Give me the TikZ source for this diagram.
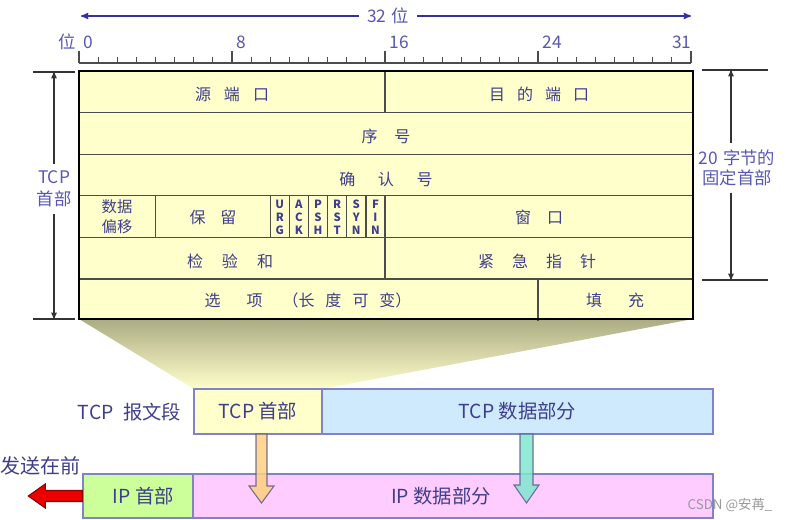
\documentclass[tikz,border=0pt]{standalone}
\usepackage{fontspec}
\setmainfont{Noto Sans CJK SC}
\usetikzlibrary{%
  arrows,%
  shapes,%
  positioning,%
  calc%
}
\definecolor{txtblue}{RGB}{62,62,140}
\definecolor{lblue}{RGB}{88,88,180}
\definecolor{arrblue}{RGB}{50,50,160}
\definecolor{hdrfill}{RGB}{255,255,204}
\definecolor{datafill}{RGB}{206,234,252}
\definecolor{iphfill}{RGB}{204,255,153}
\definecolor{ipdfill}{RGB}{255,204,255}
\definecolor{segline}{RGB}{130,130,200}
\definecolor{khaki}{RGB}{172,172,132}
\definecolor{hdrarr}{RGB}{255,208,128}
\definecolor{datarr}{RGB}{128,230,206}
\newcommand{\chgap}[1][9.75pt]{\hspace{#1}}

\begin{document}
\begin{tikzpicture}[
  x=0.75pt, y=-0.75pt, >=stealth',
  font=\fontsize{12}{14}\selectfont,
  every node/.style={text=txtblue},
  grid/.style={draw=black!70, line width=1pt},
  rul/.style={draw=black!70, line width=0.8pt},
  num/.style={text=lblue, font=\fontsize{13}{15}\selectfont, inner sep=1pt},
  dim/.style={draw=black!80, line width=0.8pt},
  dimtxt/.style={text=lblue, align=center, inner xsep=2pt, inner ysep=5pt},
  flag/.style={font=\fontsize{8.5}{9.75}\selectfont\bfseries, align=center, inner sep=0pt},
  seg/.style={draw=segline, line width=1.1pt, inner sep=0pt,
    minimum height=33.75pt, font=\fontsize{14.5}{17}\selectfont},
  big/.style={font=\fontsize{14.5}{17}\selectfont},
  fat/.style={draw=black!30!segline, line width=0.8pt, opacity=0.85}
]
\useasboundingbox (0,0) rectangle (786,520);

\draw[rul] (79,63) -- (691,63);
\foreach \i in {0,...,32} {
  \draw[rul] ({79+19.125*\i},57) -- ({79+19.125*\i},63);
}
\foreach \i in {0,8,16,24} {
  \draw[rul] ({79+19.125*\i},51) -- ({79+19.125*\i},63);
  \node[num, anchor=west] (b\i) at ({82+19.125*\i},42) {\i};
}
\draw[rul] (691,51) -- (691,63);
\node[num, anchor=east] (b31) at (693,42) {31};
\node[num, anchor=east] (bitlbl) at (77,42) {位};

\coordinate (wl) at (81,16);
\coordinate (wr) at (691,16);
\node[num, fill=white, inner xsep=6pt] (wbits) at (388,16) {32\hspace{0.3em}位};
\draw[->, arrblue, line width=1pt] (wbits) -- (wl);
\draw[->, arrblue, line width=1pt] (wbits) -- (wr);

\shade[top color=khaki, middle color=khaki!45!hdrfill, bottom color=hdrfill]
  (79,319) -- (693,319) -- (322,389) -- (194,389) -- cycle;

\fill[hdrfill] (79,71) rectangle (693,319);
\foreach \k in {1,...,5} {
  \draw[grid] (79,{71+41.6*\k}) -- (693,{71+41.6*\k});
}
\draw[grid] (385,71) -- (385,112.6);
\foreach \i in {4,10,11,12,13,14,15,16} {
  \draw[grid] ({79+19.125*\i},195.8) -- ({79+19.125*\i},237.4);
}
\draw[grid] (385,237.4) -- (385,279);
\draw[grid] (538,279) -- (538,321);
\draw[line width=1.5pt] (79,71) rectangle (693,319);

\node (srcport) at (232,94.5) {源\chgap 端\chgap 口};
\node (dstport) at (539,94.5) {目\chgap[9pt]的\chgap[9pt]端\chgap[9pt]口};
\node (seqno) at (386,136.5) {序\chgap[12.75pt]号};
\node (ackno) at (386,179) {确\chgap[16.9pt]认\chgap[16.9pt]号};
\node[align=center, font=\fontsize{11.5}{15}\selectfont] (offset) at (117,217) {数据\\偏移};
\node (resv) at (213,217) {保\chgap[11.25pt]留};
\foreach \fa/\fb/\fc [count=\i] in {U/R/G, A/C/K, P/S/H, R/S/T, S/Y/N, F/I/N} {
  \node[flag] (flag\i) at ({79+19.125*(9.5+\i)},217) {\fa\\\fb\\\fc};
}
\node (window) at (539,217) {窗\chgap[12pt]口};
\node (chksum) at (230,261) {检\chgap[14.25pt]验\chgap[14.25pt]和};
\node (urgptr) at (537,261) {紧\chgap[13.5pt]急\chgap[13.5pt]指\chgap[13.5pt]针};
\node (options) at (308,300) {选\chgap[19.5pt]项\chgap[15pt]（长\chgap[8.25pt]度\chgap[8.25pt]可\chgap[8.25pt]变）};
\node (padding) at (615,300) {填\chgap[19.5pt]充};

\draw[dim] (33,72) -- (75,72);
\draw[dim] (33,319) -- (75,319);
\coordinate (ltop) at (54,72);
\coordinate (lbot) at (54,319);
\node[dimtxt, font=\fontsize{13}{16.5}\selectfont] (hdrlen) at (54,189) {TCP\\首部};
\draw[dim,->] (hdrlen) -- (ltop);
\draw[dim,->] (hdrlen) -- (lbot);

\draw[dim] (702,70) -- (768,70);
\draw[dim] (702,280) -- (768,280);
\coordinate (rtop) at (731,70);
\coordinate (rbot) at (731,280);
\node[dimtxt, font=\fontsize{13}{14.5}\selectfont] (fixlen) at (737,168) {20\hspace{0.3em}字节的\\固定首部};
\draw[dim,->] (fixlen.north -| rtop) -- (rtop);
\draw[dim,->] (fixlen.south -| rtop) -- (rbot);

\node[seg, fill=hdrfill, minimum width=96pt] (tcphdr) at (258,411.5) {TCP 首部};
\node[seg, fill=datafill, minimum width=293.25pt] (tcpdata) at (517.5,411.5) {TCP 数据部分};
\node[big, anchor=east] (tcpseg) at (186,412) {TCP\hspace{0.5em}报文段};
\node[seg, fill=iphfill, minimum width=82.5pt, minimum height=33pt] (iphdr) at (138,496) {\hspace{8pt}IP 首部};
\node[seg, fill=ipdfill, minimum width=390pt, minimum height=33pt] (ipdata) at (453,496) {};
\node[big] (ipdatal) at (441,496) {IP 数据部分};
\node[font=\fontsize{15}{17}\selectfont] (sendfirst) at (41,466) {发送在前};

\coordinate (harr) at (261.5,434);
\coordinate (darr) at (526.5,434);
\draw[fat, fill=hdrarr] (harr) ++(-5.5,0) -- ++(0,52) -- ++(-7,0) -- ++(12.5,17)
  -- ++(12.5,-17) -- ++(-7,0) -- ++(0,-52) -- cycle;
\draw[fat, fill=datarr] (darr) ++(-6.5,0) -- ++(0,51) -- ++(-6,0) -- ++(12.5,18)
  -- ++(12.5,-18) -- ++(-6,0) -- ++(0,-51) -- cycle;
\draw[draw=red!55!black, fill=red!92!black, line width=0.8pt] (iphdr.west) ++(0,-5.5)
  -- ++(-37,0) -- ++(0,-6.5) -- ++(-17,12) -- ++(17,12) -- ++(0,-6.5) -- ++(37,0) -- cycle;

\node[text=black!40, font=\fontsize{10}{12}\selectfont] (wmark) at (730,505) {CSDN @安苒\_};
\end{tikzpicture}
\end{document}
